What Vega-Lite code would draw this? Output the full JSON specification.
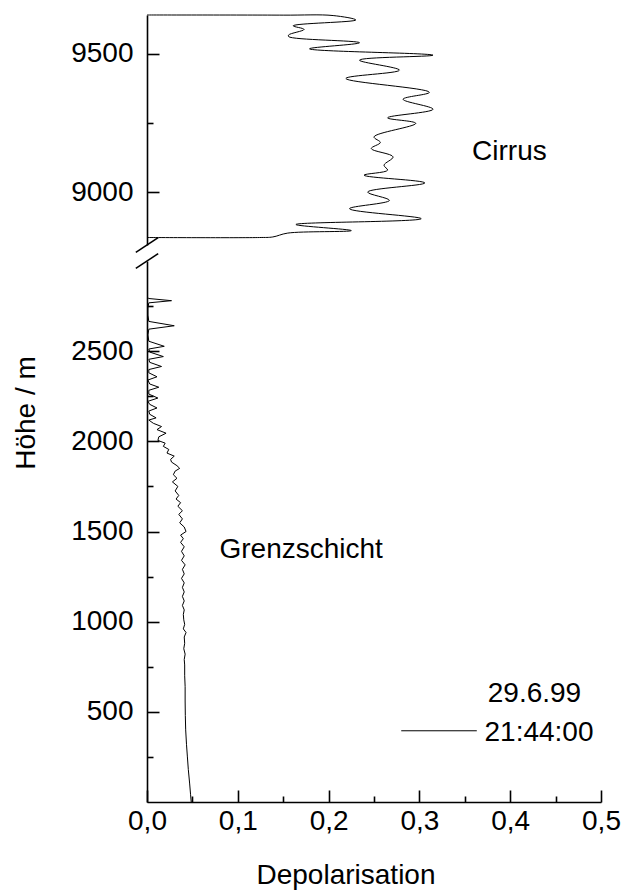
{
  "$schema": "https://vega.github.io/schema/vega-lite/v6.json",
  "padding": {"left": 12, "top": 12, "right": 5, "bottom": 5},
  "bounds": "flush",
  "spacing": 16,
  "config": {
    "view": {"stroke": null},
    "font": "Liberation Sans",
    "axis": {
      "labelFont": "Liberation Sans", "labelFontSize": 28, "labelColor": "#000",
      "titleFont": "Liberation Sans", "titleFontSize": 28, "titleFontWeight": "normal", "titleColor": "#000",
      "domainColor": "#000", "domainWidth": 1.6, "tickColor": "#000", "tickWidth": 1.6,
      "grid": false, "labelFlush": false, "labelOverlap": false, "labelBound": false
    },
    "text": {"font": "Liberation Sans", "fontSize": 28, "color": "#000"}
  },
  "datasets": {
    "cirrus": [
      {"n": 0, "h": 9640, "d": 0.0},
      {"n": 1, "h": 9639.5, "d": 0.15},
      {"n": 2, "h": 9638, "d": 0.205},
      {"n": 3, "h": 9622, "d": 0.23},
      {"n": 4, "h": 9601, "d": 0.161},
      {"n": 5, "h": 9588, "d": 0.173},
      {"n": 6, "h": 9568, "d": 0.156},
      {"n": 7, "h": 9562, "d": 0.156},
      {"n": 8, "h": 9540, "d": 0.234},
      {"n": 9, "h": 9518, "d": 0.179},
      {"n": 10, "h": 9495, "d": 0.315},
      {"n": 11, "h": 9477, "d": 0.234},
      {"n": 12, "h": 9441, "d": 0.278},
      {"n": 13, "h": 9411, "d": 0.219},
      {"n": 14, "h": 9361, "d": 0.311},
      {"n": 15, "h": 9336, "d": 0.282},
      {"n": 16, "h": 9300, "d": 0.315},
      {"n": 17, "h": 9269, "d": 0.265},
      {"n": 18, "h": 9249, "d": 0.296},
      {"n": 19, "h": 9200, "d": 0.25},
      {"n": 20, "h": 9180, "d": 0.257},
      {"n": 21, "h": 9158, "d": 0.247},
      {"n": 22, "h": 9128, "d": 0.271},
      {"n": 23, "h": 9098, "d": 0.261},
      {"n": 24, "h": 9080, "d": 0.265},
      {"n": 25, "h": 9062, "d": 0.239},
      {"n": 26, "h": 9034, "d": 0.306},
      {"n": 27, "h": 9001, "d": 0.243},
      {"n": 28, "h": 8971, "d": 0.267},
      {"n": 29, "h": 8941, "d": 0.223},
      {"n": 30, "h": 8905, "d": 0.302},
      {"n": 31, "h": 8884, "d": 0.164},
      {"n": 32, "h": 8862, "d": 0.225},
      {"n": 33, "h": 8853, "d": 0.155},
      {"n": 34, "h": 8839, "d": 0.1385},
      {"n": 35, "h": 8837, "d": 0.124},
      {"n": 36, "h": 8837, "d": 0.0}
    ],
    "grenzschicht": [
      {"h": 2800, "d": 0.0}, {"h": 2792, "d": 0.002}, {"h": 2780, "d": 0.027}, {"h": 2768, "d": 0.002},
      {"h": 2740, "d": 0.001}, {"h": 2700, "d": 0.001}, {"h": 2665, "d": 0.002}, {"h": 2641, "d": 0.03},
      {"h": 2622, "d": 0.002}, {"h": 2590, "d": 0.001}, {"h": 2555, "d": 0.002}, {"h": 2527, "d": 0.019},
      {"h": 2512, "d": 0.002}, {"h": 2495, "d": 0.003}, {"h": 2470, "d": 0.018}, {"h": 2455, "d": 0.002},
      {"h": 2438, "d": 0.003}, {"h": 2415, "d": 0.016}, {"h": 2398, "d": 0.002}, {"h": 2380, "d": 0.002},
      {"h": 2358, "d": 0.011}, {"h": 2340, "d": 0.001}, {"h": 2318, "d": 0.003}, {"h": 2300, "d": 0.013},
      {"h": 2283, "d": 0.002}, {"h": 2262, "d": 0.002}, {"h": 2240, "d": 0.012}, {"h": 2222, "d": 0.001},
      {"h": 2205, "d": 0.003}, {"h": 2185, "d": 0.011}, {"h": 2168, "d": 0.002}, {"h": 2150, "d": 0.003},
      {"h": 2130, "d": 0.01}, {"h": 2118, "d": 0.002}, {"h": 2100, "d": 0.007}, {"h": 2082, "d": 0.016},
      {"h": 2065, "d": 0.011}, {"h": 2045, "d": 0.021}, {"h": 2025, "d": 0.013}, {"h": 2005, "d": 0.012},
      {"h": 1990, "d": 0.02}, {"h": 1972, "d": 0.018}, {"h": 1955, "d": 0.024}, {"h": 1935, "d": 0.022},
      {"h": 1918, "d": 0.03}, {"h": 1900, "d": 0.026}, {"h": 1885, "d": 0.027}, {"h": 1865, "d": 0.033},
      {"h": 1850, "d": 0.036}, {"h": 1835, "d": 0.031}, {"h": 1815, "d": 0.029}, {"h": 1795, "d": 0.033},
      {"h": 1775, "d": 0.028}, {"h": 1750, "d": 0.034}, {"h": 1725, "d": 0.031}, {"h": 1700, "d": 0.035},
      {"h": 1680, "d": 0.032}, {"h": 1660, "d": 0.037}, {"h": 1640, "d": 0.034}, {"h": 1615, "d": 0.039},
      {"h": 1595, "d": 0.035}, {"h": 1570, "d": 0.039}, {"h": 1548, "d": 0.036}, {"h": 1525, "d": 0.041},
      {"h": 1500, "d": 0.043}, {"h": 1480, "d": 0.037}, {"h": 1460, "d": 0.04}, {"h": 1440, "d": 0.037},
      {"h": 1415, "d": 0.041}, {"h": 1390, "d": 0.038}, {"h": 1365, "d": 0.041}, {"h": 1340, "d": 0.038},
      {"h": 1315, "d": 0.042}, {"h": 1290, "d": 0.039}, {"h": 1265, "d": 0.041}, {"h": 1240, "d": 0.038},
      {"h": 1215, "d": 0.041}, {"h": 1190, "d": 0.039}, {"h": 1165, "d": 0.041}, {"h": 1140, "d": 0.039},
      {"h": 1115, "d": 0.041}, {"h": 1090, "d": 0.039}, {"h": 1065, "d": 0.041}, {"h": 1040, "d": 0.04},
      {"h": 1010, "d": 0.0405}, {"h": 985, "d": 0.0415}, {"h": 960, "d": 0.04}, {"h": 940, "d": 0.043},
      {"h": 915, "d": 0.041}, {"h": 880, "d": 0.0415}, {"h": 850, "d": 0.0405}, {"h": 820, "d": 0.042},
      {"h": 790, "d": 0.041}, {"h": 760, "d": 0.0415}, {"h": 700, "d": 0.0415}, {"h": 640, "d": 0.042},
      {"h": 560, "d": 0.042}, {"h": 480, "d": 0.0422}, {"h": 400, "d": 0.0426}, {"h": 320, "d": 0.0435},
      {"h": 250, "d": 0.0445}, {"h": 180, "d": 0.0455}, {"h": 100, "d": 0.047}, {"h": 40, "d": 0.048},
      {"h": 0, "d": 0.0487}
    ]
  },
  "vconcat": [
    {
      "width": 454,
      "height": 230,
      "resolve": {"axis": {"y": "independent"}},
      "layer": [
        {
          "data": {"name": "cirrus"},
          "mark": {"type": "line", "interpolate": "catmull-rom", "color": "#000", "strokeWidth": 1},
          "encoding": {
            "x": {"field": "d", "type": "quantitative", "scale": {"domain": [0, 0.5], "nice": false}, "axis": null},
            "y": {
              "field": "h", "type": "quantitative",
              "scale": {"domain": [8810, 9640], "nice": false, "zero": false},
              "axis": {
                "title": null, "orient": "left",
                "values": [9000, 9500], "format": "d",
                "tickSize": -12, "labelPadding": 26
              }
            },
            "order": {"field": "n", "type": "quantitative"}
          }
        },
        {
          "data": {"values": [{"label": "Cirrus"}]},
          "mark": {"type": "text", "align": "left", "baseline": "alphabetic"},
          "encoding": {
            "x": {"datum": 0.358, "axis": null},
            "y": {
              "datum": 9118,
              "axis": {"title": null, "orient": "left", "values": [9250], "labels": false, "domain": false, "tickSize": -6}
            },
            "text": {"field": "label"}
          }
        },
        {
          "data": {"values": [{}]},
          "mark": {"type": "rule", "color": "#000", "strokeWidth": 1.6},
          "encoding": {
            "x": {"datum": -0.0123, "axis": null},
            "x2": {"datum": 0.0123},
            "y": {"datum": 8783.6, "axis": null},
            "y2": {"datum": 8836.4}
          }
        }
      ]
    },
    {
      "width": 454,
      "height": 541,
      "resolve": {"axis": {"x": "independent", "y": "independent"}},
      "layer": [
        {
          "data": {"name": "grenzschicht"},
          "mark": {"type": "line", "color": "#000", "strokeWidth": 1},
          "encoding": {
            "x": {
              "field": "d", "type": "quantitative",
              "scale": {"domain": [0, 0.5], "nice": false},
              "axis": {
                "orient": "bottom",
                "title": "Depolarisation",
                "titleX": 198.5, "titleY": 81, "titleBaseline": "alphabetic", "titleAlign": "center",
                "values": [0, 0.1, 0.2, 0.3, 0.4, 0.5],
                "labelExpr": "replace(format(datum.value, '.1f'), '.', ',')",
                "tickSize": -12, "labelPadding": 17
              }
            },
            "y": {
              "field": "h", "type": "quantitative",
              "scale": {"domain": [0, 3000], "nice": false},
              "axis": {
                "orient": "left",
                "title": "Höhe / m",
                "titleX": -113, "titleY": 151.5, "titleAngle": -90, "titleBaseline": "alphabetic", "titleAlign": "center",
                "values": [500, 1000, 1500, 2000, 2500], "format": "d",
                "tickSize": -12, "labelPadding": 26
              }
            },
            "order": {"field": "h", "type": "quantitative"}
          }
        },
        {
          "data": {"values": [{"label": "Grenzschicht"}]},
          "mark": {"type": "text", "align": "left", "baseline": "alphabetic"},
          "encoding": {
            "x": {
              "datum": 0.0798,
              "axis": {"orient": "bottom", "title": null, "values": [0.05, 0.15, 0.25, 0.35, 0.45], "labels": false, "domain": false, "tickSize": -6}
            },
            "y": {
              "datum": 1352,
              "axis": {"orient": "left", "title": null, "values": [250, 750, 1250, 1750, 2250, 2750], "labels": false, "domain": false, "tickSize": -6}
            },
            "text": {"field": "label"}
          }
        },
        {
          "data": {"values": [{"label": "29.6.99"}]},
          "mark": {"type": "text", "align": "left", "baseline": "alphabetic"},
          "encoding": {
            "x": {"datum": 0.3753, "axis": null},
            "y": {"datum": 556, "axis": null},
            "text": {"field": "label"}
          }
        },
        {
          "data": {"values": [{"label": "21:44:00"}]},
          "mark": {"type": "text", "align": "left", "baseline": "alphabetic"},
          "encoding": {
            "x": {"datum": 0.3717, "axis": null},
            "y": {"datum": 338, "axis": null},
            "text": {"field": "label"}
          }
        },
        {
          "data": {"values": [{}]},
          "mark": {"type": "rule", "color": "#000", "strokeWidth": 1},
          "encoding": {
            "x": {"datum": 0.28, "axis": null},
            "x2": {"datum": 0.3632},
            "y": {"datum": 395, "axis": null}
          }
        },
        {
          "data": {"values": [{}]},
          "mark": {"type": "rule", "color": "#000", "strokeWidth": 1.6},
          "encoding": {
            "x": {"datum": -0.0123, "axis": null},
            "x2": {"datum": 0.0123},
            "y": {"datum": 2959.5, "axis": null},
            "y2": {"datum": 3040.5}
          }
        }
      ]
    }
  ]
}
